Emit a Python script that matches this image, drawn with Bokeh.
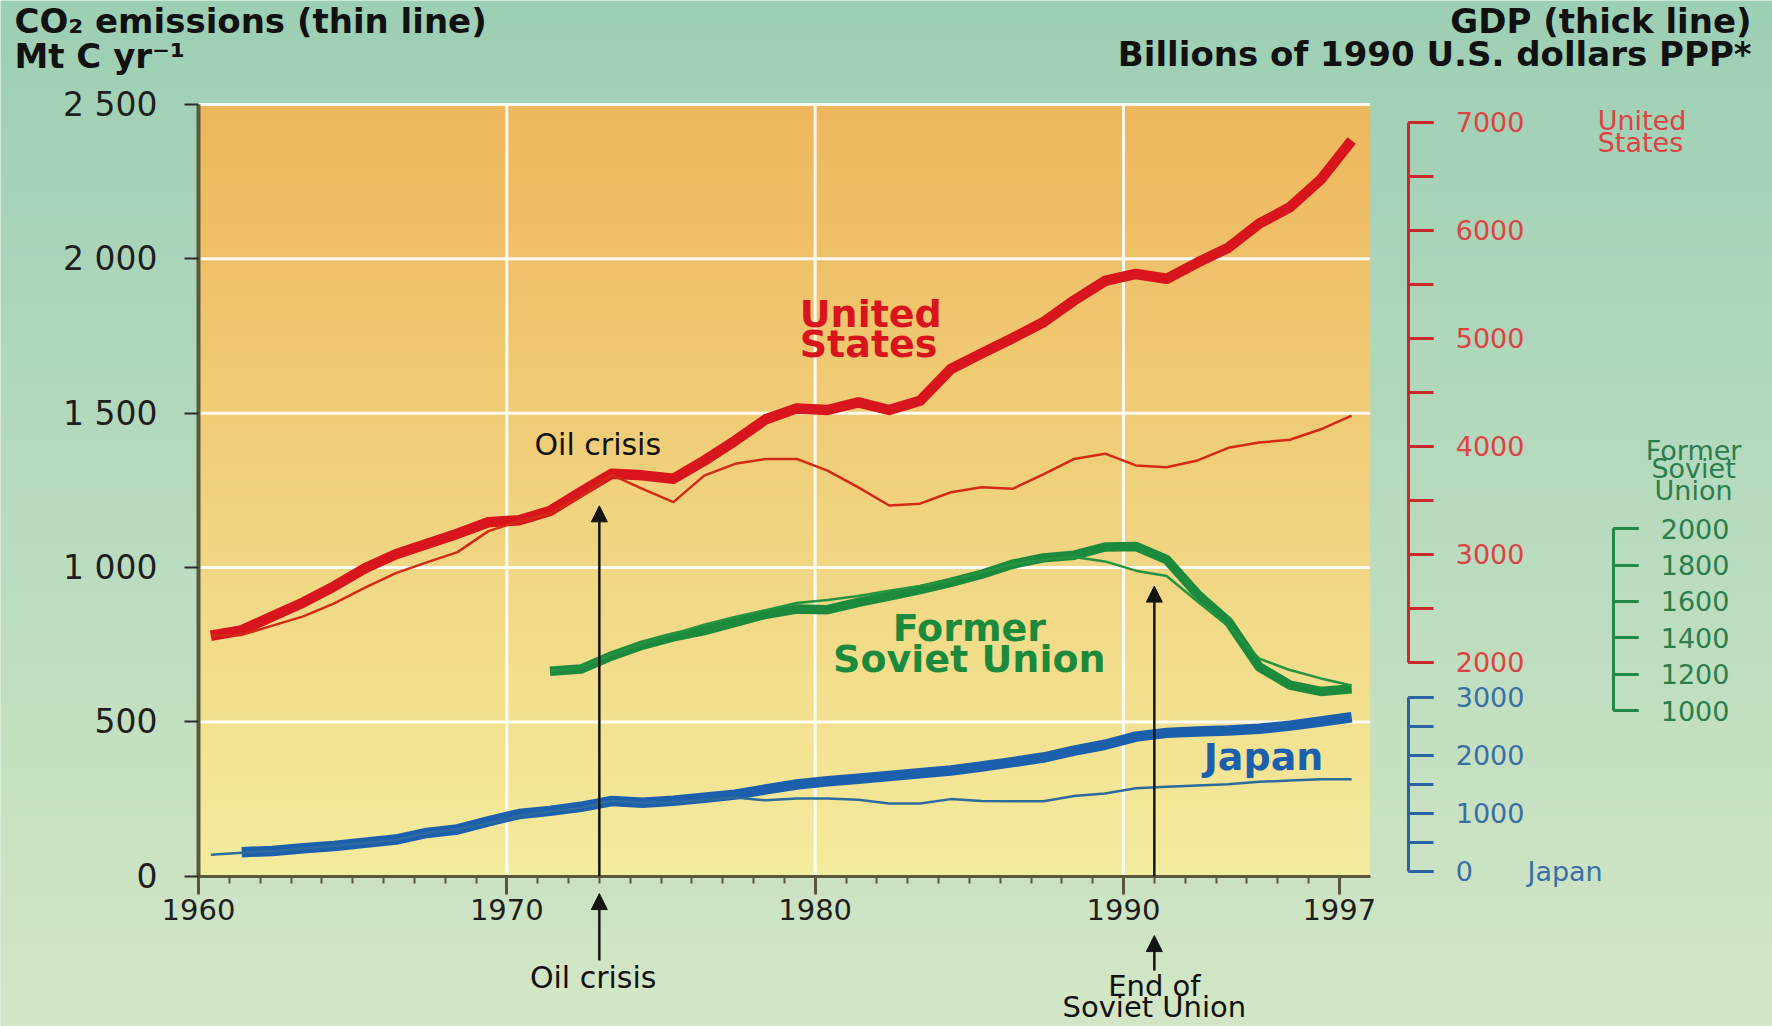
import numpy as np
from bokeh.plotting import figure
from bokeh.models import (Range1d, LinearAxis, FixedTicker, ColumnDataSource,
                          Label, Arrow, NormalHead)
from bokeh.transform import dodge
from bokeh.embed import file_html
from bokeh.resources import INLINE

# ---------------- data ----------------
us_years = list(range(1960, 1998))
us_gdp = [2245, 2295, 2425, 2553, 2703, 2870, 3000, 3095, 3190, 3296,
          3315, 3400, 3575, 3745, 3730, 3698, 3865, 4050, 4250, 4350,
          4335, 4405, 4335, 4420, 4715, 4860, 5000, 5148, 5350, 5530,
          5595, 5550, 5700, 5838, 6060, 6213, 6470, 6830]
us_co2 = [780, 782, 812, 842, 884, 935, 982, 1017, 1050, 1118,
          1150, 1175, 1230, 1300, 1255, 1212, 1298, 1336, 1352, 1352,
          1314, 1260, 1201, 1207, 1244, 1260, 1255, 1302, 1352, 1369,
          1331, 1325, 1347, 1388, 1405, 1414, 1448, 1492]

fsu_years = list(range(1971, 1998))
fsu_gdp = [1216, 1228, 1300, 1360, 1405, 1440, 1485, 1530, 1558, 1555,
           1595, 1630, 1665, 1705, 1750, 1805, 1840, 1855, 1900, 1903,
           1830, 1640, 1490, 1240, 1140, 1105, 1119]
fsu_co2 = [664, 677, 718, 755, 785, 815, 840, 862, 885, 895,
           908, 925, 940, 958, 985, 1010, 1025, 1034, 1020, 990,
           973, 890, 810, 705, 668, 641, 618]

jp_co2_years = list(range(1960, 1998))
jp_co2 = [70, 76, 82, 90, 99, 108, 118, 140, 152, 172,
          196, 210, 221, 245, 238, 240, 247, 255, 246, 252,
          252, 248, 236, 236, 250, 244, 243, 243, 260, 268,
          285, 290, 294, 298, 306, 310, 314, 314]
jp_gdp_years = list(range(1961, 1998))
jp_gdp = [328, 350, 395, 435, 490, 545, 660, 720, 860,
          985, 1040, 1110, 1210, 1180, 1215, 1265, 1320, 1410, 1495,
          1550, 1595, 1640, 1690, 1735, 1805, 1880, 1960, 2080, 2180,
          2320, 2385, 2410, 2425, 2455, 2510, 2580, 2655]

co2_ticks = [0, 500, 1000, 1500, 2000, 2500]
co2_tick_labels = ["0", "500", "1 000", "1 500", "2 000", "2 500"]
year_ticks = [1960, 1970, 1980, 1990, 1997]
year_minor = list(range(1960, 1998))
us_gdp_ticks = [2000, 3000, 4000, 5000, 6000, 7000]
us_gdp_minor = list(range(2000, 7001, 500))
jp_gdp_ticks = [0, 1000, 2000, 3000]
jp_gdp_minor = list(range(0, 3001, 500))
fsu_gdp_ticks = [1000, 1200, 1400, 1600, 1800, 2000]

events = [1973, 1991]
event_labels = ["Oil crisis", "End of\nSoviet Union"]

# ---------------- layout ----------------
W, H = 1772, 1026
X_LIM = (1960, 1998)
Y_LIM = (0, 2500)


def ends(va, pa, vb, pb, size):
    """value at pixel 0 and pixel `size` for a linear map through two anchors"""
    k = (vb - va) / (pb - pa)
    return va - pa * k, va + (size - pa) * k


x_lo, x_hi = ends(1960, 198, 1990, 1123, W)
y_top, y_bot = ends(2500, 104, 0, 875.8, H)
us_top, us_bot = ends(7000, 121.7, 2000, 661.7, H)
jp_top, jp_bot = ends(3000, 696.7, 0, 870.7, H)
fsu_top, fsu_bot = ends(2000, 528.3, 1000, 710.0, H)

p = figure(width=W, height=H, output_backend="svg", toolbar_location=None,
           x_range=Range1d(x_lo, x_hi), y_range=Range1d(y_bot, y_top),
           x_axis_location=None, y_axis_location=None, min_border=0)
p.min_border_left = p.min_border_right = p.min_border_top = p.min_border_bottom = 0
p.extra_y_ranges = {"us": Range1d(us_bot, us_top),
                    "jp": Range1d(jp_bot, jp_top),
                    "fsu": Range1d(fsu_bot, fsu_top)}
p.outline_line_color = None
p.background_fill_color = "#c4e1c1"
p.border_fill_color = "#c4e1c1"
p.grid.visible = False


def hexrgb(h):
    h = h.lstrip("#")
    return [int(h[i:i + 2], 16) for i in (0, 2, 4)]


def vgrad(bottom, top, n=300):
    f = np.linspace(0, 1, n)[:, None]
    rgb = np.array(hexrgb(bottom)) * (1 - f) + np.array(hexrgb(top)) * f
    img = np.empty((n, 1), dtype=np.uint32)
    v = img.view(dtype=np.uint8).reshape((n, 1, 4))
    v[:, 0, 0:3] = rgb.astype(np.uint8)
    v[:, 0, 3] = 255
    return img


# page gradient and plot-area gradient
p.image_rgba(image=[vgrad("#d3e7c6", "#9dcfb5")], x=x_lo, y=y_bot,
             dw=x_hi - x_lo, dh=y_top - y_bot)
p.image_rgba(image=[vgrad("#f4ec9e", "#eeb75d")], x=X_LIM[0], y=Y_LIM[0],
             dw=X_LIM[1] - X_LIM[0], dh=Y_LIM[1] - Y_LIM[0])

# white grid lines inside the plot area
vx = year_ticks[1:4]
p.segment(x0=vx, y0=[Y_LIM[0]] * len(vx), x1=vx, y1=[Y_LIM[1]] * len(vx),
          line_color="white", line_width=3, line_alpha=0.9)
hy = co2_ticks[1:]
p.segment(x0=[X_LIM[0]] * len(hy), y0=hy, x1=[X_LIM[1]] * len(hy), y1=hy,
          line_color="white", line_width=3, line_alpha=0.9)

# ---------------- series ----------------
s_us = ColumnDataSource(dict(year=us_years, gdp=us_gdp, co2=us_co2))
s_fsu = ColumnDataSource(dict(year=fsu_years, gdp=fsu_gdp, co2=fsu_co2))
s_jpc = ColumnDataSource(dict(year=jp_co2_years, co2=jp_co2))
s_jpg = ColumnDataSource(dict(year=jp_gdp_years, gdp=jp_gdp))
xd = dodge("year", 0.4)

US_T, US_t = "#d8141c", "#d42a14"
FSU_T, FSU_t = "#1c8a3c", "#25933f"
JP_T, JP_t = "#1b5fad", "#2c6b9c"

p.line(x=xd, y="gdp", source=s_us, y_range_name="us", line_color=US_T,
       line_width=10.5, line_join="round")
p.line(x=xd, y="co2", source=s_us, line_color=US_t, line_width=2.5, line_join="round")
p.line(x=xd, y="gdp", source=s_fsu, y_range_name="fsu", line_color=FSU_T,
       line_width=9.5, line_join="round")
p.line(x=xd, y="co2", source=s_fsu, line_color=FSU_t, line_width=2.5, line_join="round")
p.line(x=xd, y="gdp", source=s_jpg, y_range_name="jp", line_color=JP_T,
       line_width=10.5, line_join="round")
p.line(x=xd, y="co2", source=s_jpc, line_color=JP_t, line_width=2.5, line_join="round")

# ---------------- event arrows ----------------
ink = "#141414"
inside_tip = [1200, 940]
below_span = [(-273, -56), (-305, -192)]
for ev, tip, (b0, b1) in zip(events, inside_tip, below_span):
    p.add_layout(Arrow(end=NormalHead(size=16, fill_color=ink, line_color=ink),
                       x_start=ev, y_start=Y_LIM[0], x_end=ev, y_end=tip,
                       line_color=ink, line_width=2.5))
    p.add_layout(Arrow(end=NormalHead(size=16, fill_color=ink, line_color=ink),
                       x_start=ev, y_start=b0, x_end=ev, y_end=b1,
                       line_color=ink, line_width=2.5))

# ---------------- axes ----------------
FONT = "DejaVu Sans"
OLIVE = "#5a583c"

yax = LinearAxis(fixed_location=X_LIM[0], bounds=Y_LIM,
                 ticker=FixedTicker(ticks=co2_ticks),
                 major_label_overrides={t: l for t, l in zip(co2_ticks, co2_tick_labels)})
yax.axis_line_color = OLIVE
yax.axis_line_width = 4
yax.major_tick_line_color = "#2a2a2a"
yax.major_tick_line_width = 2
yax.major_tick_out = 14
yax.major_tick_in = 0
yax.minor_tick_out = 0
yax.major_label_standoff = 27
yax.major_label_text_font = FONT
yax.major_label_text_font_size = "33px"
yax.major_label_text_color = "#1e1e1e"
p.add_layout(yax, "left")

xax = LinearAxis(fixed_location=Y_LIM[0], bounds=X_LIM,
                 ticker=FixedTicker(ticks=year_ticks, minor_ticks=year_minor))
xax.axis_line_color = OLIVE
xax.axis_line_width = 3
xax.major_tick_line_color = OLIVE
xax.major_tick_line_width = 3
xax.minor_tick_line_color = OLIVE
xax.minor_tick_line_width = 2
xax.major_tick_out = 18
xax.major_tick_in = 0
xax.minor_tick_out = 7
xax.minor_tick_in = 0
xax.major_label_standoff = 5
xax.major_label_text_font = FONT
xax.major_label_text_font_size = "29px"
xax.major_label_text_color = "#1e1e1e"
p.add_layout(xax, "below")


def side_axis(name, loc, bounds, ticks, minor, color, label_color):
    ax = LinearAxis(y_range_name=name, fixed_location=loc, bounds=bounds,
                    ticker=FixedTicker(ticks=ticks, minor_ticks=minor))
    ax.axis_line_color = color
    ax.axis_line_width = 3
    ax.major_tick_line_color = color
    ax.minor_tick_line_color = color
    ax.major_tick_line_width = 3
    ax.minor_tick_line_width = 3
    ax.major_tick_out = 25
    ax.minor_tick_out = 25
    ax.major_tick_in = 0
    ax.minor_tick_in = 0
    ax.major_label_standoff = 22
    ax.major_label_text_font = FONT
    ax.major_label_text_font_size = "27px"
    ax.major_label_text_color = label_color
    p.add_layout(ax, "right")


side_axis("us", 1999.25, (us_gdp_ticks[0], us_gdp_ticks[-1]), us_gdp_ticks,
          us_gdp_minor, "#c9282c", "#df4242")
side_axis("jp", 1999.25, (jp_gdp_ticks[0], jp_gdp_ticks[-1]), jp_gdp_ticks,
          jp_gdp_minor, "#2b62a3", "#3a6fa6")
side_axis("fsu", 2005.9, (fsu_gdp_ticks[0], fsu_gdp_ticks[-1]), fsu_gdp_ticks,
          fsu_gdp_ticks, "#228848", "#2a7e4c")


# ---------------- texts ----------------
def lab(x, y, text, color="#111111", size="34px", bold=False, align="left",
        y_range_name="default"):
    p.add_layout(Label(x=x, y=y, text=text, text_color=color, text_font=FONT,
                       text_font_size=size, text_align=align, text_baseline="middle",
                       text_font_style="bold" if bold else "normal",
                       y_range_name=y_range_name))


# axis titles
lab(1954.03, 2771, "CO₂ emissions (thin line)", bold=True)
lab(1954.03, 2656, "Mt C yr⁻¹", bold=True)
lab(2010.37, 2771, "GDP (thick line)", bold=True, align="right")
lab(2010.37, 2662, "Billions of 1990 U.S. dollars PPP*", bold=True, align="right")

# series labels in the plot
lab(1979.5, 1823, "United", US_T, size="38px", bold=True)
lab(1979.5, 1725, "States", US_T, size="38px", bold=True)
lab(1985.0, 803, "Former", FSU_T, size="38px", bold=True, align="center")
lab(1985.0, 705, "Soviet Union", FSU_T, size="38px", bold=True, align="center")
lab(1992.6, 385, "Japan", JP_T, size="38px", bold=True)

# side-axis titles
lab(2005.38, 2448, "United", "#df4242", size="27px")
lab(2005.38, 2377, "States", "#df4242", size="27px")
lab(2008.49, 1379, "Former", "#2a7e4c", size="27px", align="center")
lab(2008.49, 1321, "Soviet", "#2a7e4c", size="27px", align="center")
lab(2008.49, 1250, "Union", "#2a7e4c", size="27px", align="center")
lab(2003.1, 15, "Japan", "#3a6fa6", size="27px")

# event labels
lab(events[0] - 0.05, 1398, event_labels[0], size="30px", align="center")
lab(events[0] - 0.2, -328, event_labels[0], size="30px", align="center")
for i, line in enumerate(event_labels[1].split("\n")):
    lab(events[1], -356 - 68 * i, line, size="29px", align="center")

open("out.html", "w").write(file_html(p, INLINE))
